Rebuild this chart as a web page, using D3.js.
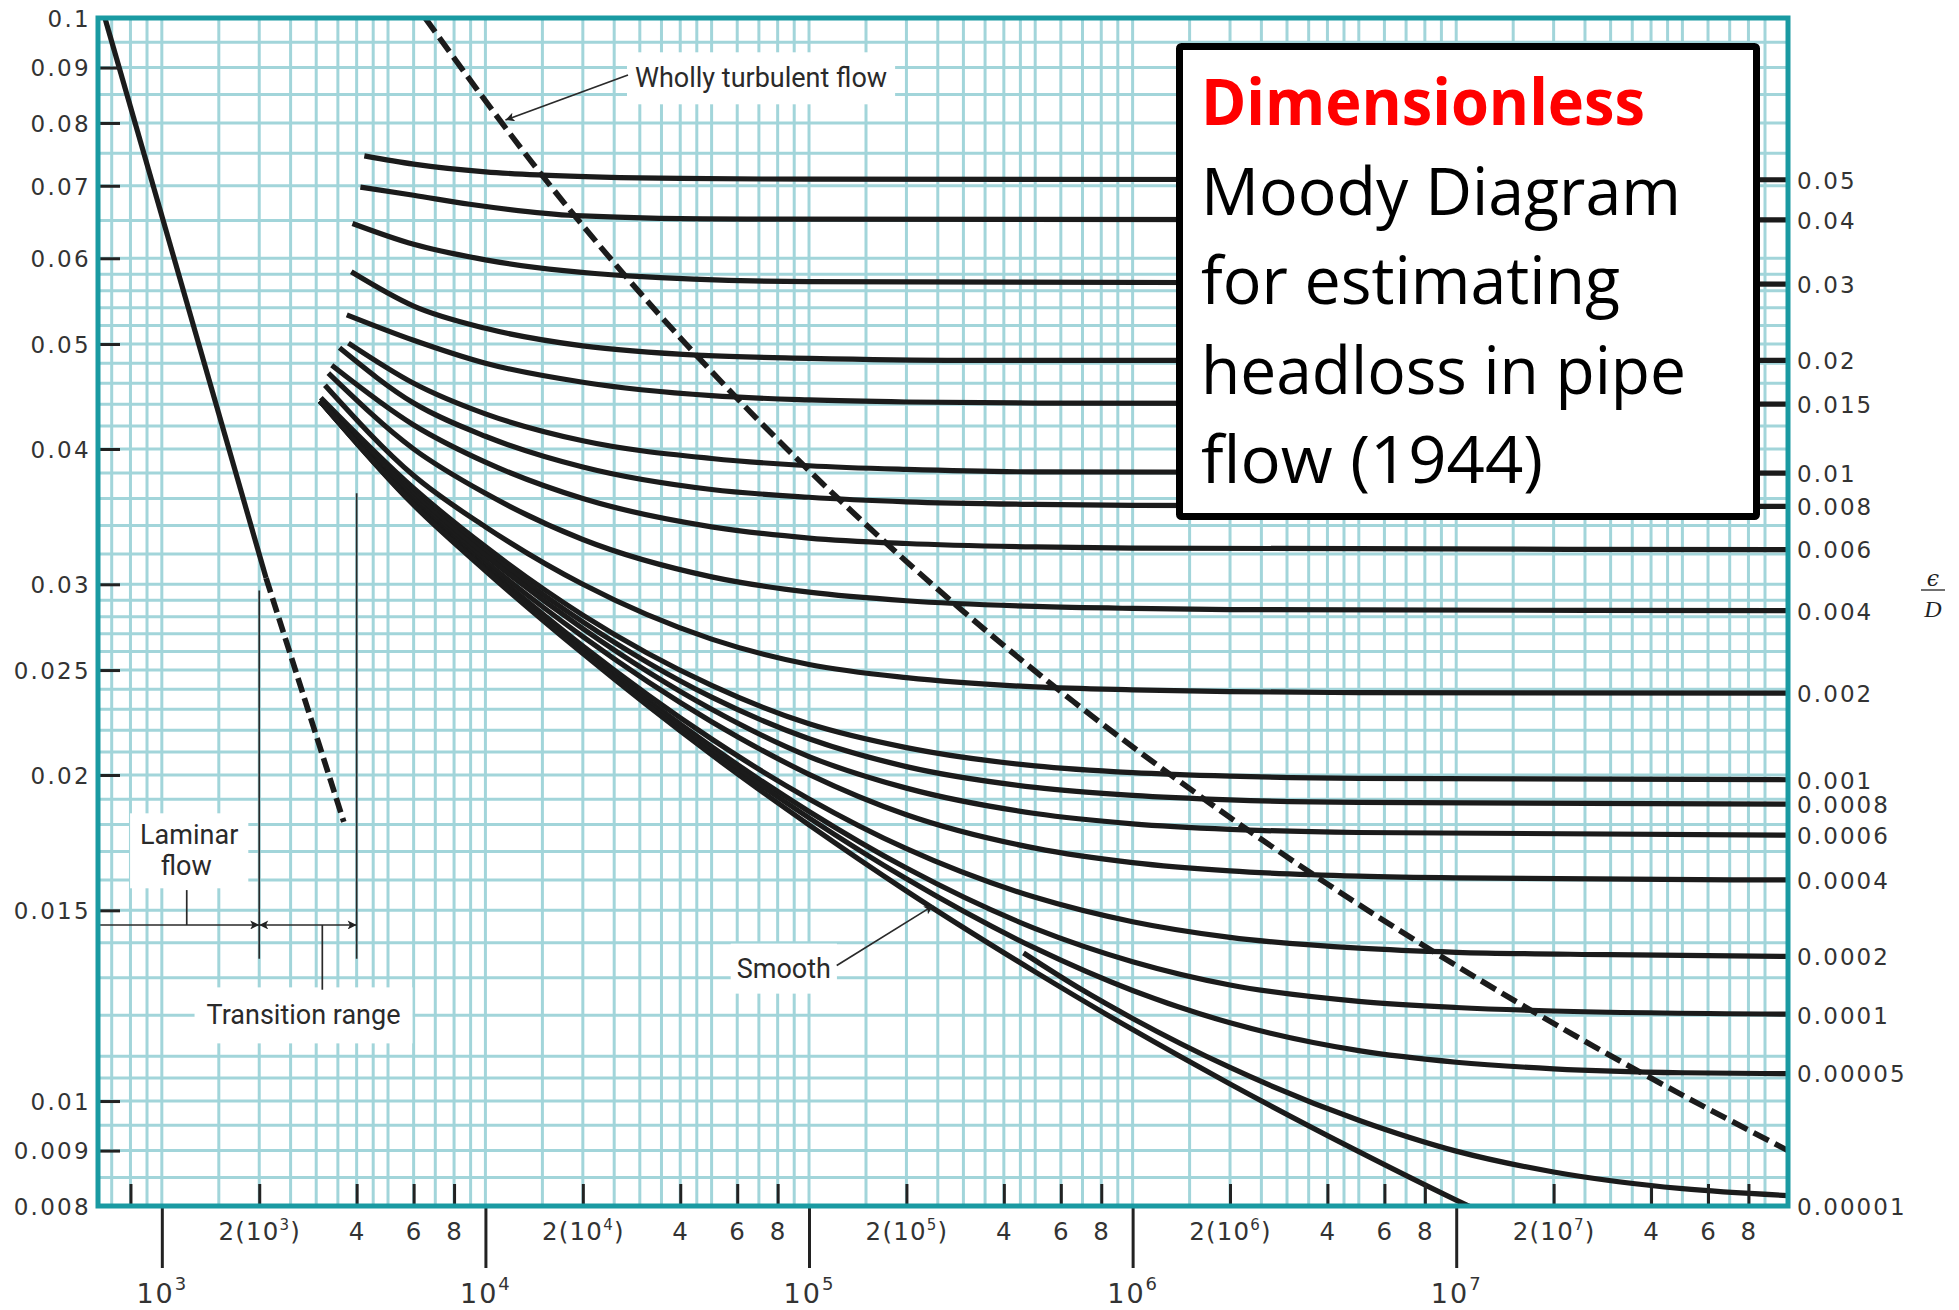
<!DOCTYPE html>
<html><head><meta charset="utf-8">
<script src="https://cdn.jsdelivr.net/npm/d3@7"></script>
<style>html,body{margin:0;padding:0;background:#fff;}svg{display:block;}</style>
</head><body>
<svg id="chart" width="1959" height="1310"></svg>
<script>
// ---------------- data ----------------
const reDomain = [635, 1.06e8];
const fDomain = [0.008, 0.1];

const fTicks = [0.1, 0.09, 0.08, 0.07, 0.06, 0.05, 0.04, 0.03, 0.025, 0.02, 0.015, 0.01, 0.009, 0.008];
const fTickLabels = ["0.1","0.09","0.08","0.07","0.06","0.05","0.04","0.03","0.025","0.02","0.015","0.01","0.009","0.008"];

const reMajor = [1e3, 1e4, 1e5, 1e6, 1e7];
const reMajorLabels = ["10^3","10^4","10^5","10^6","10^7"];
const reMinor = [800, 2e3,4e3,6e3,8e3, 2e4,4e4,6e4,8e4, 2e5,4e5,6e5,8e5, 2e6,4e6,6e6,8e6, 2e7,4e7,6e7,8e7];
const reMinorLabels = ["", "2(10^3)","4","6","8", "2(10^4)","4","6","8", "2(10^5)","4","6","8", "2(10^6)","4","6","8", "2(10^7)","4","6","8"];

const gridDecades = [1e2, 1e3, 1e4, 1e5, 1e6, 1e7];
const gridMultipliers = [1, 1.5, 2, 2.5, 3, 3.5, 4, 4.5, 5, 6, 7, 8, 9];
const gridF = [0.0085,0.009,0.0095,0.01,0.0105,0.011,0.012,0.013,0.014,0.015,0.016,0.017,0.018,0.019,0.02,
  0.021,0.022,0.023,0.024,0.025,0.026,0.027,0.028,0.029,0.03,0.032,0.034,0.036,0.038,0.04,0.042,0.044,
  0.046,0.048,0.05,0.052,0.054,0.056,0.058,0.06,0.065,0.07,0.075,0.08,0.085,0.09,0.095];

// relative roughness curves: [Re, f]
const c_05   = [[4225,0.0746],[6000,0.0733],[1e4,0.0721],[1.5e4,0.0716],[4e4,0.0711],[1e5,0.0710],[1.06e8,0.0709]];
const c_04   = [[4108,0.0698],[6000,0.0686],[8940,0.0673],[1.9e4,0.0657],[6.4e4,0.0652],[1.06e8,0.0651]];
const c_03   = [[3883,0.0646],[6000,0.0618],[1e4,0.0598],[2.76e4,0.0578],[1e5,0.0571],[1.06e8,0.0568]];
const c_02   = [[3850,0.0583],[6000,0.0542],[1e4,0.0517],[2e4,0.0498],[4.7e4,0.0488],[1e5,0.0485],[3e5,0.0483],[1.06e8,0.0483]];
const c_015  = [[3729,0.0532],[6000,0.0504],[1e4,0.0480],[2e4,0.0461],[5e4,0.0448],[1e5,0.0444],[2e5,0.0442],[5e5,0.0441],[1.06e8,0.0440]];
const c_01   = [[3772,0.0501],[6000,0.0460],[1e4,0.0431],[2e4,0.0407],[5e4,0.0392],[1e5,0.0386],[2e5,0.0383],[5e5,0.0381],[1.06e8,0.0380]];
const c_008  = [[3540,0.0496],[6000,0.0441],[1e4,0.0411],[2e4,0.0385],[5e4,0.0367],[1e5,0.0361],[2e5,0.03575],[5e5,0.03555],[1e6,0.03548],[1.06e8,0.0354]];
const c_006  = [[3351,0.0478],[6000,0.0421],[1e4,0.0389],[2e4,0.0360],[5e4,0.0339],[1e5,0.0331],[2e5,0.03272],[5e5,0.03248],[1e6,0.0324],[1.06e8,0.0323]];
const c_004  = [[3270,0.0470],[6000,0.0400],[1e4,0.0364],[2e4,0.0330],[5e4,0.03048],[1e5,0.0295],[2e5,0.02897],[5e5,0.02862],[1e6,0.0285],[2e6,0.02843],[1.06e8,0.02837]];
const c_002  = [[3192,0.0458],[6000,0.0378],[1e4,0.0339],[2e4,0.0300],[5e4,0.0267],[1e5,0.0253],[2e5,0.0246],[5e5,0.02412],[1e6,0.02397],[2e6,0.02388],[5e6,0.02383],[1.06e8,0.0238]];
const c_001  = [[3100,0.0446],[6000,0.0368],[1e4,0.0325],[2e4,0.0281],[5e4,0.0242],[1e5,0.0223],[2e5,0.0212],[5e5,0.02039],[1e6,0.0201],[2e6,0.01995],[5e6,0.01986],[1.06e8,0.0198]];
const c_0008 = [[3083,0.0443],[6000,0.0365],[1e4,0.0322],[2e4,0.0277],[5e4,0.0236],[1e5,0.0216],[2e5,0.02036],[5e5,0.01948],[1e6,0.01915],[2e6,0.01897],[5e6,0.01887],[1.06e8,0.0188]];
const c_0006 = [[3083,0.0443],[6000,0.0363],[1e4,0.0319],[2e4,0.0273],[5e4,0.0230],[1e5,0.0208],[2e5,0.01945],[5e5,0.01843],[1e6,0.01803],[2e6,0.01782],[5e6,0.0177],[1.06e8,0.0176]];
const c_0004 = [[3083,0.0443],[6000,0.03598],[1e4,0.0315],[2e4,0.02684],[5e4,0.0224],[1e5,0.02003],[2e5,0.01838],[5e5,0.01712],[1e6,0.0166],[2e6,0.01631],[5e6,0.01613],[1e7,0.01607],[1.06e8,0.0160]];
const c_0002 = [[3083,0.0443],[6000,0.03577],[1e4,0.0312],[2e4,0.02631],[5e4,0.02159],[1e5,0.01901],[2e5,0.0171],[5e5,0.01542],[1e6,0.01464],[2e6,0.01416],[5e6,0.01384],[1e7,0.01372],[3e7,0.01365],[1.06e8,0.0136]];
const c_0001 = [[3083,0.0443],[6000,0.03563],[1e4,0.03104],[2e4,0.02611],[5e4,0.02124],[1e5,0.01851],[2e5,0.01641],[5e5,0.01443],[1e6,0.01345],[2e6,0.0128],[5e6,0.01236],[1e7,0.0122],[2e7,0.01211],[1.06e8,0.01203]];
const c_00005= [[3083,0.0443],[6000,0.03556],[1e4,0.03097],[2e4,0.02599],[5e4,0.02107],[1e5,0.01826],[2e5,0.01604],[5e5,0.01384],[1e6,0.01265],[2e6,0.01181],[5e6,0.01113],[1e7,0.01086],[2e7,0.01071],[5e7,0.01062],[1.06e8,0.0106]];
const c_00001= [[4.6e5,0.0137],[7e5,0.01266],[1e6,0.01192],[2e6,0.01074],[5e6,0.0096],[1e7,0.00899],[2e7,0.0086],[5e7,0.0083],[1.06e8,0.00818]];
const c_smooth = [[3083,0.0443],[6000,0.03551],[1e4,0.03088],[2e4,0.02589],[5e4,0.02088],[1e5,0.01799],[2e5,0.01563],[5e5,0.01316],[1e6,0.01164],[2e6,0.01037],[5e6,0.00898],[1e7,0.0081],[1.1e7,0.00799]];

const roughLabels = ["0.05","0.04","0.03","0.02","0.015","0.01","0.008","0.006","0.004","0.002","0.001","0.0008","0.0006","0.0004","0.0002","0.0001","0.00005","0.00001"];
const roughLabelF = [0.0709,0.0651,0.0568,0.0483,0.0440,0.0380,0.0354,0.0323,0.02835,0.0238,0.0198,0.0188,0.0176,0.0160,0.0136,0.0120,0.0106,0.0080];
const roughCurves = [c_05,c_04,c_03,c_02,c_015,c_01,c_008,c_006,c_004,c_002,c_001,c_0008,c_0006,c_0004,c_0002,c_0001,c_00005,c_00001];

// wholly turbulent boundary (dashed)
const turbRe = [6514, 14950, 27880, 63790, 133300, 296600, 653600, 1.427e6, 3.966e6, 8.53e6, 1.827e7, 3.895e7, 1.06e8];
const turbF  = [0.1, 0.0716, 0.0572, 0.0437, 0.0352, 0.0284, 0.0234, 0.01964, 0.01589, 0.01373, 0.01198, 0.010545, 0.0090];

// laminar flow
const laminarSolid  = [[667, 0.1], [2100, 0.0304]];
const laminarDashed = [[2100, 0.0304], [3650, 0.0181]];

// ---------------- chart ----------------
const svg = d3.select("#chart");
const X0 = 98, X1 = 1788, Y0 = 18, Y1 = 1206;
const x = d3.scaleLog().domain(reDomain).range([X0, X1]);
const y = d3.scaleLog().domain(fDomain).range([Y1, Y0]);

const GRID = "#a2d5da", BORDER = "#1a9aa2", INK = "#1b1b1b", TXT = "#333";
const numFont = "DejaVu Sans, Verdana, sans-serif";
const annFont = "Roboto, Liberation Sans, Arial, sans-serif";

svg.append("rect").attr("width",1959).attr("height",1310).attr("fill","#fff");

const defs = svg.append("defs");
defs.append("clipPath").attr("id","plotclip")
  .append("rect").attr("x",X0).attr("y",Y0).attr("width",X1-X0).attr("height",Y1-Y0);
defs.append("marker").attr("id","ah").attr("viewBox","0 0 10 10").attr("refX",10).attr("refY",5)
  .attr("markerWidth",13).attr("markerHeight",9).attr("markerUnits","userSpaceOnUse").attr("orient","auto-start-reverse")
  .append("path").attr("d","M0,0 L10,5 L0,10 L2.5,5 Z").attr("fill","#222");

// grid
const gGrid = svg.append("g").attr("clip-path","url(#plotclip)");
const vGrid = gridDecades.flatMap(d => gridMultipliers.map(m => m*d)).filter(v => v > reDomain[0] && v < reDomain[1]);
gGrid.selectAll("line.v").data(vGrid).join("line")
  .attr("x1",d=>x(d)).attr("x2",d=>x(d)).attr("y1",Y0).attr("y2",Y1)
  .attr("stroke",GRID).attr("stroke-width",3);
gGrid.selectAll("line.h").data(gridF).join("line")
  .attr("y1",d=>y(d)).attr("y2",d=>y(d)).attr("x1",X0).attr("x2",X1)
  .attr("stroke",GRID).attr("stroke-width",3);

const gBg = svg.append("g");     // white label backgrounds
const gCurves = svg.append("g").attr("clip-path","url(#plotclip)");
const gAnn = svg.append("g");

const line = d3.line().x(d=>x(d[0])).y(d=>y(d[1])).curve(d3.curveMonotoneX);
const CW = 5.2;
roughCurves.forEach(c => {
  gCurves.append("path").attr("d", line(c)).attr("fill","none").attr("stroke",INK).attr("stroke-width",CW);
});
gCurves.append("path").attr("d", line(c_smooth)).attr("fill","none").attr("stroke",INK).attr("stroke-width",CW);

// wholly turbulent dashed line
gCurves.append("path").attr("d", line(turbRe.map((r,i)=>[r, turbF[i]])))
  .attr("fill","none").attr("stroke",INK).attr("stroke-width",5.6).attr("stroke-dasharray","17,7");

// laminar
const straight = d3.line().x(d=>x(d[0])).y(d=>y(d[1]));
gCurves.append("path").attr("d", straight(laminarSolid)).attr("fill","none").attr("stroke",INK).attr("stroke-width",5.2);
gCurves.append("path").attr("d", straight(laminarDashed)).attr("fill","none").attr("stroke",INK).attr("stroke-width",5.6)
  .attr("stroke-dasharray","15,6");

// ---- annotations (anchored in data coordinates) ----
function thin(x1,y1,x2,y2,opts={}) {
  const l = gAnn.append("line").attr("x1",x1).attr("y1",y1).attr("x2",x2).attr("y2",y2)
    .attr("stroke","#2a2a2a").attr("stroke-width",1.7);
  if (opts.end) l.attr("marker-end","url(#ah)");
  if (opts.start) l.attr("marker-start","url(#ah)");
  return l;
}
function label(txt, re, f, anchor) {
  return gAnn.append("text").attr("x",x(re)).attr("y",y(f)).attr("text-anchor",anchor||"middle")
    .attr("font-family",annFont).attr("font-size",27).attr("fill","#2a2a2a").text(txt);
}
function whiteBehind(nodes, pad) {
  const boxes = nodes.map(n => n.node().getBBox());
  const x1 = d3.min(boxes,b=>b.x)-pad[0], x2 = d3.max(boxes,b=>b.x+b.width)+pad[0];
  const y1 = d3.min(boxes,b=>b.y)-pad[1], y2 = d3.max(boxes,b=>b.y+b.height)+pad[1];
  gBg.append("rect").attr("x",x1).attr("y",y1).attr("width",x2-x1).attr("height",y2-y1).attr("fill","#fff");
}

// laminar / transition annotation
const arrowF = 0.01454;
thin(x(2000), y(0.0296), x(2000), y(0.01353));
thin(x(4000), y(0.0364), x(4000), y(0.01353));
thin(X0, y(arrowF), x(2000), y(arrowF), {end:true});
thin(x(2000), y(arrowF), x(4000), y(arrowF), {start:true, end:true});
thin(x(1194), y(arrowF), x(1194), y(0.01566));
thin(x(3133), y(arrowF), x(3133), y(0.01267));
const lam1 = label("Laminar", 1215, 0.01726);
const lam2 = label("flow", 1190, 0.01616);
whiteBehind([lam1, lam2], [10, 6]);
const trans = label("Transition range", 2741, 0.01177);
whiteBehind([trans], [12, 12]);

// wholly turbulent flow
const wt = label("Wholly turbulent flow", 28990, 0.0863, "start");
whiteBehind([wt], [8, 10]);
thin(x(27580), y(0.0886), x(11530), y(0.0805), {end:true});

// smooth
const sm = label("Smooth", 59780, 0.0130, "start");
whiteBehind([sm], [6, 9]);
thin(x(1.218e5), y(0.01334), x(2.42e5), y(0.01515), {end:true});

// ---- axes ----
// left friction-factor axis
const axL = svg.append("g").attr("transform",`translate(${X0},0)`)
  .call(d3.axisLeft(y).tickValues(fTicks).tickFormat((d,i)=>fTickLabels[i]).tickSize(-22).tickPadding(7));
axL.select(".domain").remove();
axL.selectAll(".tick line").attr("stroke","#222").attr("stroke-width",3)
  .attr("display",d => (d===0.1||d===0.008) ? "none" : null);
axL.selectAll(".tick text").attr("font-family",numFont).attr("font-size",23).attr("letter-spacing",2.3)
  .attr("fill",TXT).attr("dy","0.36em");

// right roughness labels
const axR = svg.append("g").attr("transform",`translate(${X1},0)`)
  .call(d3.axisRight(y).tickValues(roughLabelF).tickFormat((d,i)=>roughLabels[i]).tickSize(0).tickPadding(9));
axR.select(".domain").remove();
axR.selectAll(".tick text").attr("font-family",numFont).attr("font-size",23).attr("letter-spacing",2.1)
  .attr("fill",TXT).attr("dy","0.36em");

// bottom minor ticks + labels
const axB = svg.append("g").attr("transform",`translate(0,${Y1})`)
  .call(d3.axisBottom(x).tickValues(reMinor).tickFormat("").tickSize(-22));
axB.select(".domain").remove();
axB.selectAll(".tick line").attr("stroke","#222").attr("stroke-width",3);
axB.selectAll(".tick").each(function(d,i){
  const s = reMinorLabels[i]; if (!s) return;
  const t = d3.select(this).append("text").attr("y",34).attr("text-anchor","middle")
    .attr("font-family",numFont).attr("font-size",24.5).attr("letter-spacing",1.2).attr("fill",TXT);
  if (s.includes("^")) {
    const [base, exp] = s.replace(")","").split("^");
    t.append("tspan").text(base);
    t.append("tspan").attr("dy",-10).attr("font-size",15).text(exp);
    t.append("tspan").attr("dy",10).text(")");
  } else t.text(s);
});

// bottom major ticks + labels
const axM = svg.append("g").attr("transform",`translate(0,${Y1})`)
  .call(d3.axisBottom(x).tickValues(reMajor).tickFormat("").tickSize(62));
axM.select(".domain").remove();
axM.selectAll(".tick line").attr("stroke","#222").attr("stroke-width",3);
axM.selectAll(".tick").each(function(d,i){
  const [base, exp] = reMajorLabels[i].split("^");
  const t = d3.select(this).append("text").attr("y",97).attr("text-anchor","middle")
    .attr("font-family",numFont).attr("font-size",27).attr("letter-spacing",2).attr("fill",TXT);
  t.append("tspan").text(base);
  t.append("tspan").attr("dy",-13).attr("font-size",18).text(exp);
});

// plot border
svg.append("rect").attr("x",X0).attr("y",Y0).attr("width",X1-X0).attr("height",Y1-Y0)
  .attr("fill","none").attr("stroke",BORDER).attr("stroke-width",5);

// epsilon / D
const eps = svg.append("g").attr("transform","translate(1933,0)");
eps.append("text").attr("y",586).attr("text-anchor","middle").attr("font-family","DejaVu Serif, Liberation Serif, serif")
  .attr("font-style","italic").attr("font-size",22).attr("fill","#222").text("ϵ");
eps.append("line").attr("x1",-12).attr("x2",12).attr("y1",590).attr("y2",590).attr("stroke","#222").attr("stroke-width",1.3);
eps.append("text").attr("y",617).attr("text-anchor","middle").attr("font-family","Liberation Serif, DejaVu Serif, serif")
  .attr("font-style","italic").attr("font-size",24).attr("fill","#222").text("D");

// title box
const titleLines = ["Dimensionless", "Moody Diagram", "for estimating", "headloss in pipe", "flow (1944)"];
const titleWidths = [444, 480, 419, 485, 342];
const box = svg.append("g");
box.append("rect").attr("x",1179.5).attr("y",46.5).attr("width",577).attr("height",470).attr("rx",2)
  .attr("fill","#fff").attr("stroke","#000").attr("stroke-width",7);
titleLines.forEach((s,i)=>{
  box.append("text").attr("x",1201).attr("y",125 + i*89.5)
    .attr("font-family","Open Sans, Lato, sans-serif").attr("font-size",65)
    .attr("font-weight", i===0 ? 700 : 400).attr("fill", i===0 ? "#ff0000" : "#000")
    .attr("textLength", titleWidths[i]).attr("lengthAdjust","spacingAndGlyphs").text(s);
});
</script>
</body></html>
